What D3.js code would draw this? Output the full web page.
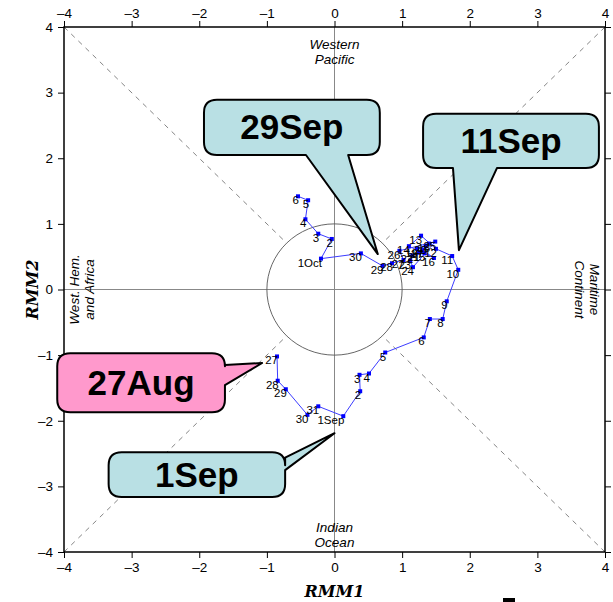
<!DOCTYPE html>
<html>
<head>
<meta charset="utf-8">
<script src="https://cdn.jsdelivr.net/npm/d3@7"></script>
<style>
body { margin: 0; background: #fff; }
svg { display: block; font-family: "Liberation Sans", Arial, sans-serif; }
</style>
</head>
<body>
<div id="chart-area"></div>
<script>
// daily RMM index, 27Aug to 6Oct
const dayLabels = ["27","28","29","30","31","1Sep","2","3","4","5","6","7","8","9","10","11",
  "12","13","14","15","16","17","18","19","20","21","22","23","24","25","26","27","28",
  "29","30","1Oct","2","3","4","5","6"];
const rmm1 = [-0.85,-0.84,-0.72,-0.40,-0.24,0.13,0.38,0.37,0.51,0.75,1.32,1.41,1.60,1.66,1.83,1.74,
  1.50,1.28,1.10,1.33,1.47,1.30,1.40,1.22,1.35,1.25,1.15,1.12,1.16,1.49,0.96,1.02,0.85,
  0.71,0.39,-0.20,-0.04,-0.24,-0.43,-0.39,-0.54];
const rmm2 = [-1.02,-1.39,-1.52,-1.91,-1.78,-1.93,-1.55,-1.30,-1.28,-0.96,-0.73,-0.45,-0.45,-0.18,0.30,0.51,
  0.62,0.82,0.66,0.55,0.48,0.60,0.70,0.62,0.66,0.56,0.52,0.44,0.34,0.73,0.59,0.45,0.40,
  0.36,0.55,0.47,0.77,0.85,1.07,1.36,1.42];

const ticks = [-4,-3,-2,-1,0,1,2,3,4];

// callouts: text, tip (data), box corners (data), tail side and base span along that side
const calloutText = ["29Sep","11Sep","27Aug","1Sep"];
const calloutTip = [[0.64,0.54],[1.84,0.60],[-1.07,-1.12],[0.0,-2.19]];
const calloutBox = [[-1.93,2.89,0.67,2.05],[1.31,2.68,3.91,1.85],[-4.10,-0.97,-1.62,-1.87],[-3.34,-2.48,-0.73,-3.16]];
const calloutSide = ["bottom","bottom","right","right"];
const calloutBase = [[0.58,0.82],[0.17,0.42],[0.20,0.54],[0.12,0.40]];
const calloutFill = ["#b9e0e4","#b9e0e4","#ff99cc","#b9e0e4"];

const width = 613, height = 602;
const pLeft = 64, pRight = 605, pTop = 27, pBottom = 552;

const svg = d3.select("#chart-area").append("svg")
  .attr("width", width).attr("height", height);

const x = d3.scaleLinear().domain([-4, 4]).range([pLeft, pRight]);
const y = d3.scaleLinear().domain([-4, 4]).range([pBottom, pTop]);

const fmt = d => d < 0 ? "\u2013" + Math.abs(d) : String(d);

// diagonals from corners to unit circle
const r45 = Math.SQRT1_2;
[[1,1],[1,-1],[-1,1],[-1,-1]].forEach(([sx, sy]) => {
  svg.append("line")
    .attr("x1", x(4 * sx)).attr("y1", y(4 * sy))
    .attr("x2", x(r45 * sx)).attr("y2", y(r45 * sy))
    .attr("stroke", "#666").attr("stroke-width", 0.8)
    .attr("stroke-dasharray", "5,5");
});

// zero lines
svg.append("line").attr("x1", x(0)).attr("x2", x(0)).attr("y1", y(4)).attr("y2", y(-4))
  .attr("stroke", "#888").attr("stroke-width", 1);
svg.append("line").attr("x1", x(-4)).attr("x2", x(4)).attr("y1", y(0)).attr("y2", y(0))
  .attr("stroke", "#888").attr("stroke-width", 1);

// unit circle
svg.append("ellipse")
  .attr("cx", x(0)).attr("cy", y(0))
  .attr("rx", x(1) - x(0)).attr("ry", y(0) - y(1))
  .attr("fill", "none").attr("stroke", "#555").attr("stroke-width", 0.9);

// axes
const axisStyle = g => {
  g.select(".domain").remove();
  g.selectAll("line").attr("stroke", "#000");
  g.selectAll("text").attr("font-size", 13.5).attr("fill", "#000")
    .attr("font-family", "'Liberation Sans', Arial, sans-serif");
};
svg.append("g").attr("transform", `translate(0,${pTop})`)
  .call(d3.axisTop(x).tickValues(ticks).tickFormat(fmt).tickSize(6).tickPadding(3)).call(axisStyle);
svg.append("g").attr("transform", `translate(0,${pBottom})`)
  .call(d3.axisBottom(x).tickValues(ticks).tickFormat(fmt).tickSize(6).tickPadding(4)).call(axisStyle);
svg.append("g").attr("transform", `translate(${pLeft},0)`)
  .call(d3.axisLeft(y).tickValues(ticks).tickFormat(fmt).tickSize(6).tickPadding(5)).call(axisStyle);
svg.append("g").attr("transform", `translate(${pRight},0)`)
  .call(d3.axisRight(y).tickValues(ticks).tickFormat("").tickSize(6)).call(axisStyle);

// frame
svg.append("rect").attr("x", pLeft).attr("y", pTop)
  .attr("width", pRight - pLeft).attr("height", pBottom - pTop)
  .attr("fill", "none").attr("stroke", "#000").attr("stroke-width", 1.5);

// phase region labels
const phaseLabel = (tx, ty, rot, lines) => {
  const t = svg.append("text")
    .attr("transform", `translate(${tx},${ty}) rotate(${rot})`)
    .attr("text-anchor", "middle").attr("font-size", 13.5).attr("font-style", "italic");
  lines.forEach((l, i) => t.append("tspan").attr("x", 0).attr("dy", i === 0 ? 0 : 15).text(l));
};
phaseLabel(x(0), 49, 0, ["Western", "Pacific"]);
phaseLabel(x(0), 532, 0, ["Indian", "Ocean"]);
phaseLabel(79, y(0), -90, ["West. Hem.", "and Africa"]);
phaseLabel(590, y(0), 90, ["Maritime", "Continent"]);

// axis titles
svg.append("text").attr("x", x(0)).attr("y", 597)
  .attr("text-anchor", "middle").attr("font-size", 16).attr("font-weight", "bold")
  .attr("font-style", "italic").attr("font-family", "'DejaVu Serif', serif").text("RMM1");
svg.append("text").attr("transform", `translate(38,${y(0)}) rotate(-90)`)
  .attr("text-anchor", "middle").attr("font-size", 16).attr("font-weight", "bold")
  .attr("font-style", "italic").attr("font-family", "'DejaVu Serif', serif").text("RMM2");

// trajectory
const pts = rmm1.map((v, i) => ({ x: v, y: rmm2[i], label: dayLabels[i] }));
svg.append("path").datum(pts)
  .attr("d", d3.line().x(d => x(d.x)).y(d => y(d.y)))
  .attr("fill", "none").attr("stroke", "#3c3cff").attr("stroke-width", 1);
svg.selectAll(".pt").data(pts).enter().append("rect")
  .attr("class", "pt")
  .attr("x", d => x(d.x) - 2).attr("y", d => y(d.y) - 2)
  .attr("width", 4).attr("height", 4).attr("fill", "#0000ff");
svg.selectAll(".lbl").data(pts).enter().append("text")
  .attr("class", "lbl")
  .attr("x", d => x(d.x) + 1).attr("y", d => y(d.y) + 8)
  .attr("text-anchor", "end").attr("font-size", 11.5).attr("fill", "#000")
  .text(d => d.label);

// callout bubbles
function bubblePath(x0, y0, x1, y1, tip, side, base, rad) {
  const [tx, ty] = tip;
  let p = `M${x0 + rad},${y0} H${x1 - rad} Q${x1},${y0} ${x1},${y0 + rad}`;
  if (side === "right") {
    const b1 = y0 + (y1 - y0) * base[0], b2 = y0 + (y1 - y0) * base[1];
    p += ` V${b1} L${tx},${ty} L${x1},${b2}`;
  }
  p += ` V${y1 - rad} Q${x1},${y1} ${x1 - rad},${y1}`;
  if (side === "bottom") {
    const b1 = x0 + (x1 - x0) * base[0], b2 = x0 + (x1 - x0) * base[1];
    p += ` H${b2} L${tx},${ty} L${b1},${y1}`;
  }
  p += ` H${x0 + rad} Q${x0},${y1} ${x0},${y1 - rad} V${y0 + rad} Q${x0},${y0} ${x0 + rad},${y0} Z`;
  return p;
}

calloutText.forEach((txt, i) => {
  const b = calloutBox[i];
  const x0 = x(b[0]), y0 = y(b[1]), x1 = x(b[2]), y1 = y(b[3]);
  const tip = [x(calloutTip[i][0]), y(calloutTip[i][1])];
  svg.append("path")
    .attr("d", bubblePath(x0, y0, x1, y1, tip, calloutSide[i], calloutBase[i], 13))
    .attr("fill", calloutFill[i]).attr("stroke", "#000").attr("stroke-width", 2)
    .attr("stroke-linejoin", "round");
  svg.append("text")
    .attr("x", (x0 + x1) / 2).attr("y", (y0 + y1) / 2 + 12)
    .attr("text-anchor", "middle").attr("font-size", 35).attr("font-weight", "bold")
    .attr("fill", "#000").text(txt);
});

// small cut-off mark at lower edge
svg.append("rect").attr("x", 503).attr("y", 598).attr("width", 12).attr("height", 4).attr("fill", "#000");
</script>
</body>
</html>
